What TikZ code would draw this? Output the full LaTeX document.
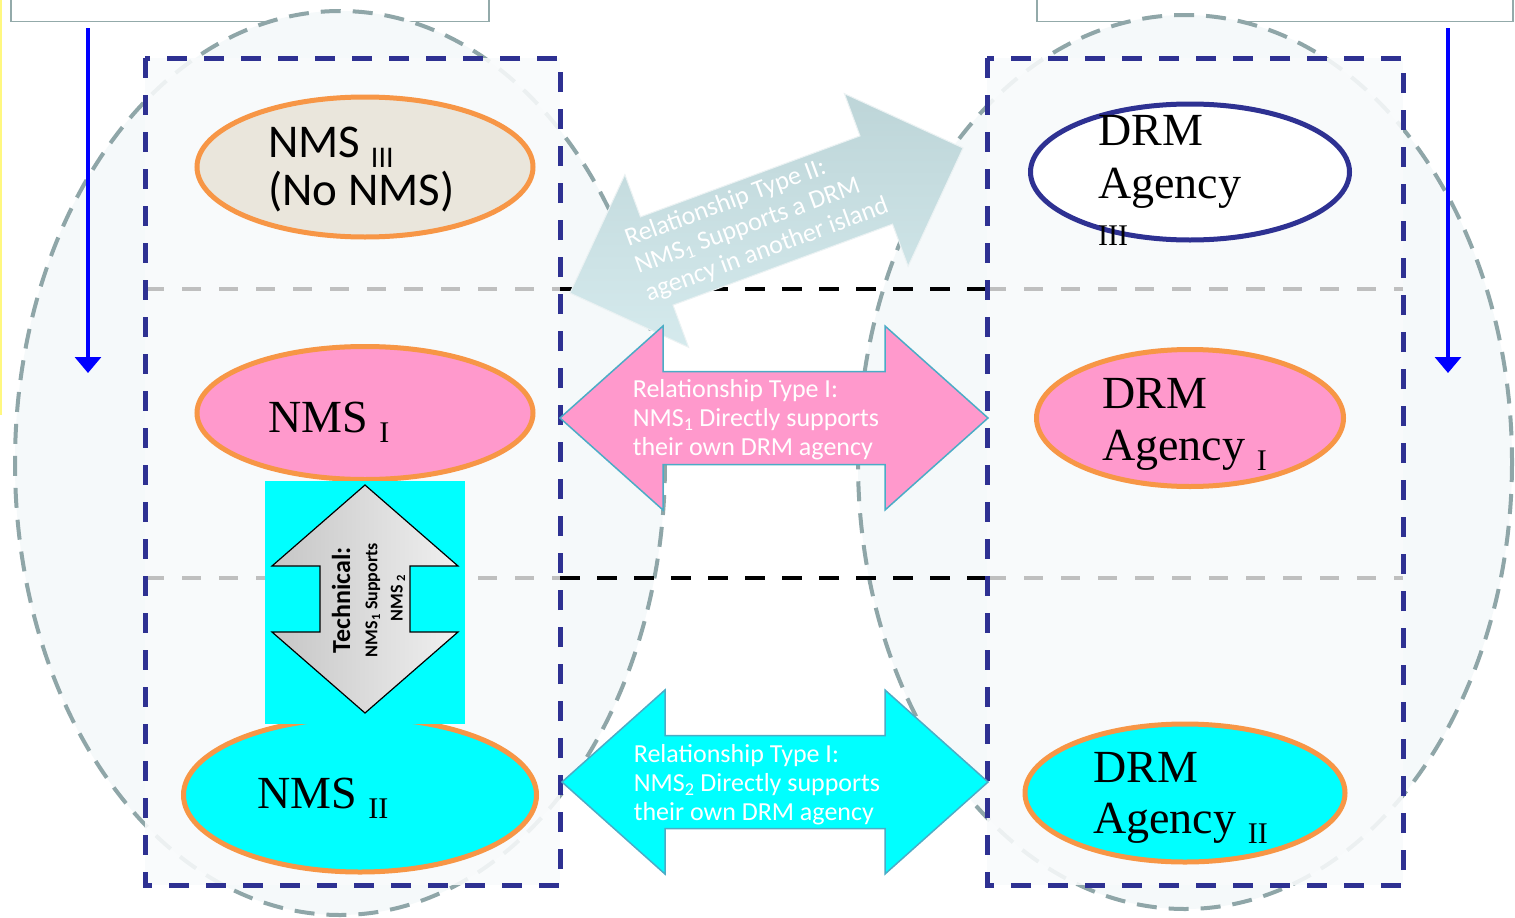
\documentclass[tikz,border=0pt]{standalone}
\usepackage{fontspec}
\setmainfont{Liberation Serif}
\newfontfamily\calib{Carlito}
\usetikzlibrary{shapes.geometric,arrows.meta}

\definecolor{zonenavy}{HTML}{2E3192}
\definecolor{blobedge}{HTML}{F79646}
\definecolor{islandgray}{HTML}{8FA6A8}
\definecolor{islandfill}{HTML}{F5F9FA}
\definecolor{nobeige}{HTML}{EAE6DC}
\definecolor{nmspink}{HTML}{FF99CC}
\definecolor{aqua}{HTML}{00FFFF}
\definecolor{arrowedge}{HTML}{4BACC6}
\definecolor{typetwodark}{HTML}{BDD5D8}
\definecolor{typetwolight}{HTML}{D5EAED}
\definecolor{boxedge}{HTML}{93AAAA}

\newcommand{\lowsub}[1]{{\fontsize{30}{30}\selectfont\raisebox{-10pt}{#1}}}

\tikzset{
  island/.style={fill=islandfill, draw=islandgray, line width=4pt, dash pattern=on 20pt off 12pt},
  zone/.style={draw=zonenavy, line width=5pt, dash pattern=on 20pt off 17pt},
  layerline/.style={draw=gray!50, line width=3.5pt, dash pattern=on 19pt off 18pt},
  gapline/.style={draw=black, line width=4pt, dash pattern=on 20pt off 17pt},
  blob/.style={ellipse, draw=blobedge, line width=5pt, inner sep=0pt},
  bigtext/.style={anchor=base west, inner sep=0pt, font=\fontsize{46}{52}\selectfont},
  relarrow/.style={draw=arrowedge, line width=1.5pt},
  reltext/.style={white, align=left, font=\calib\fontsize{26}{29}\selectfont},
  techtext/.style={rotate=90, inner sep=0pt, font=\calib\bfseries\fontsize{18}{20}\selectfont},
  flowarrow/.style={blue, line width=3.2pt, -{Triangle[width=26pt,length=16pt]}},
  topbox/.style={draw=boxedge, line width=1.5pt, fill=white, inner sep=0pt},
  pics/dblarrow/.style args={#1/#2/#3/#4}{code={
    \path[pic actions] (-#1,0) -- (-#2,-#3) -- (-#2,-#4) -- (#2,-#4) -- (#2,-#3)
      -- (#1,0) -- (#2,#3) -- (#2,#4) -- (-#2,#4) -- (-#2,#3) -- cycle;}},
}

\begin{document}
\begin{tikzpicture}[x=1pt,y=-1pt]
\useasboundingbox[fill=white] (0,0) rectangle (1515,918);
\draw[yellow!50, line width=2pt] (0.8,0) -- (0.8,415);

% role boxes on top
\node[topbox, minimum width=478, minimum height=40, anchor=south west] (roleL) at (10,22) {};
\node[topbox, minimum width=476, minimum height=40, anchor=south west] (roleR) at (1036,22) {};

% the two islands
\draw[island] (340,463) ellipse [x radius=325, y radius=452];
\draw[island] (1185,462) ellipse [x radius=327, y radius=447];

\fill[islandfill!60!white, fill opacity=0.88] (145,58) rectangle (560,885);
\fill[islandfill!60!white, fill opacity=0.88] (987,58) rectangle (1403,885);

% layers
\draw[layerline] (145,289) -- (560,289);
\draw[gapline] (560,289) -- (987,289);
\draw[layerline] (987,289) -- (1403,289);
\draw[layerline] (145,578) -- (560,578);
\draw[gapline] (560,578) -- (987,578);
\draw[layerline] (987,578) -- (1403,578);

\draw[zone] (145,58) rectangle (560,885);
\draw[zone] (987,58) rectangle (1403,885);

% flow arrows
\coordinate (flowLtop) at (88,28);
\coordinate (flowLbot) at (88,373);
\coordinate (flowRtop) at (1448,28);
\coordinate (flowRbot) at (1448,373);
\draw[flowarrow] (flowLtop) -- (flowLbot);
\draw[flowarrow] (flowRtop) -- (flowRbot);

% NMS and DRM agencies
\node[blob, fill=nobeige, minimum width=336, minimum height=140] (nms3) at (365,167) {};
\node[blob, draw=zonenavy, fill=white, minimum width=319, minimum height=136] (drm3) at (1190,172) {};
\node[blob, fill=nmspink, minimum width=336, minimum height=133] (nms1) at (365,413) {};
\node[blob, fill=nmspink, minimum width=307, minimum height=137] (drm1) at (1190,418) {};
\node[blob, fill=aqua, minimum width=353, minimum height=154] (nms2) at (360,795) {};
\node[blob, fill=aqua, minimum width=320, minimum height=138] (drm2) at (1185,793) {};

\node[bigtext, font=\calib\fontsize{47}{52}\selectfont] (nms3a) at (268,157) {NMS \lowsub{III}};
\node[bigtext, font=\calib\fontsize{47}{52}\selectfont] (nms3b) at (268,205) {(No NMS)};
\node[bigtext] (drm3a) at (1098,145) {DRM};
\node[bigtext] (drm3b) at (1098,198) {Agency};
\node[bigtext, font=\fontsize{30}{30}\selectfont] (drm3c) at (1098,245) {III};
\node[bigtext] (nms1a) at (268,432) {NMS \lowsub{I}};
\node[bigtext] (drm1a) at (1102,408) {DRM};
\node[bigtext] (drm1b) at (1102,460) {Agency \lowsub{I}};
\node[bigtext] (nms2a) at (257,808) {NMS \lowsub{II}};
\node[bigtext] (drm2a) at (1093,782) {DRM};
\node[bigtext] (drm2b) at (1093,833) {Agency \lowsub{II}};

% technical link
\fill[aqua] (265,481) rectangle (465,724);
\pic[rotate=90, draw=black, line width=1.2pt, left color=gray!45, right color=gray!12] (tech) at (365,599) {dblarrow=114/33/93/45};
\node[techtext, font=\calib\bfseries\fontsize{26}{28}\selectfont] (techa) at (341,600) {Technical:};
\node[techtext] (techb) at (373,600) {NMS\textsubscript{1} Supports};
\node[techtext] (techc) at (398,598) {NMS \textsubscript{2}};

% relationships
\pic[rotate=20.25, draw=white!70!typetwodark, line width=1pt, top color=typetwodark, bottom color=typetwolight] (reltwo) at (766.5,220.5) {dblarrow=209.5/117/92/47};
\node[reltext, rotate=20.25] (reltwotext) at (757,223) {Relationship Type II:\\NMS\textsubscript{1} Supports a DRM\\agency in another island};

\pic[relarrow, fill=nmspink] (relone) at (774,418) {dblarrow=214/111/92/46.5};
\node[reltext] (relonetext) at (756,420) {Relationship Type I:\\NMS\textsubscript{1} Directly supports\\their own DRM agency};

\pic[relarrow, fill=aqua] (relonb) at (775,782) {dblarrow=213/110/92/46.5};
\node[reltext] (relonbtext) at (757,785) {Relationship Type I:\\NMS\textsubscript{2} Directly supports\\their own DRM agency};
\end{tikzpicture}
\end{document}
